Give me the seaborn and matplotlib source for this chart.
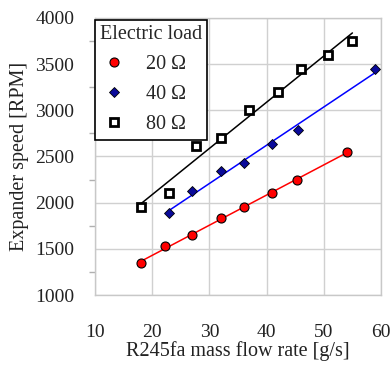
import numpy as np
import pandas as pd
import matplotlib
matplotlib.use("Agg")
import matplotlib.pyplot as plt
import seaborn as sns
from matplotlib.ticker import MultipleLocator

# Data
x20 = [18.0, 22.3, 27.0, 32.0, 36.0, 41.0, 45.3, 54.0]
y20 = [1350, 1530, 1650, 1830, 1950, 2100, 2250, 2550]
x40 = [23.0, 27.0, 32.0, 36.0, 41.0, 45.5, 59.0]
y40 = [1890, 2130, 2340, 2430, 2640, 2790, 3450]
x80 = [18.0, 23.0, 27.7, 32.0, 37.0, 42.0, 46.0, 50.7, 55.0]
y80 = [1950, 2100, 2610, 2700, 3000, 3200, 3450, 3600, 3750]
labels = ["20 Ω", "40 Ω", "80 Ω"]
xticks = [10, 20, 30, 40, 50, 60]
yticks = [1000, 1500, 2000, 2500, 3000, 3500, 4000]

sns.set_theme(style="white")
plt.rcParams['font.family'] = ['Liberation Serif', 'DejaVu Serif']

fig = plt.figure(figsize=(3.9, 3.68), dpi=100)
L, R, B, T = 95 / 390, 381 / 390, 1 - 295 / 368, 1 - 18 / 368
ax = fig.add_axes([L, B, R - L, T - B])

series = [
    (x20, y20, "red", "#ff0000", "o", 6.5, "black", 0.8),
    (x40, y40, "blue", "#0a0a9a", "D", 5, "black", 0.6),
    (x80, y80, "black", "white", "s", 6.3, "black", 2.0),
]
handles = []
for (xs, ys, lc, fc, mk, ms, ec, ew), lab in zip(series, labels):
    df = pd.DataFrame({"x": xs, "y": ys})
    sns.regplot(data=df, x="x", y="y", ax=ax, scatter=False, ci=None,
                truncate=True, line_kws=dict(color=lc, lw=1.1, zorder=2))
    ax.plot(df["x"], df["y"], linestyle="none", marker=mk, markersize=ms,
            markerfacecolor=fc, markeredgecolor=ec, markeredgewidth=ew, zorder=3)
    h, = ax.plot([], [], linestyle="none", marker=mk, markersize=ms,
                 markerfacecolor=fc, markeredgecolor=ec, markeredgewidth=ew, label=lab)
    handles.append(h)

ax.set_xlim(10, 60)
ax.set_ylim(1000, 4000)
ax.set_xticks(xticks)
ax.set_yticks(yticks)
ax.yaxis.set_minor_locator(MultipleLocator(250))
ax.grid(True, which="major", color="#d0d0d0", lw=1.0)
ax.set_axisbelow(True)
for s in ax.spines.values():
    s.set_color("#c8c8c8")
    s.set_linewidth(1.0)
ax.tick_params(axis="both", which="both", direction="out", color="#b0b0b0",
               labelsize=14, labelcolor="#222222")
ax.tick_params(axis="both", which="major", length=4, width=1)
ax.tick_params(axis="y", which="minor", length=4, width=1, left=True)
ax.tick_params(axis="y", which="major", pad=11)
ax.tick_params(axis="x", which="major", pad=17)
ax.set_xlabel("R245fa mass flow rate [g/s]", fontsize=14.5, color="#222222", labelpad=0)
ax.set_ylabel("Expander speed [RPM]", fontsize=14.5, color="#222222", labelpad=4)

leg = ax.legend(handles=handles, title="Electric load", loc="upper left",
                bbox_to_anchor=(0.0, 0.993), fontsize=14.5, title_fontsize=14.5,
                frameon=True, fancybox=False, edgecolor="black",
                borderpad=0.25, handletextpad=0.9, labelspacing=0.55,
                handlelength=1.4, borderaxespad=0.0)
leg.get_frame().set_linewidth(1.2)
leg.get_frame().set_alpha(1)
leg._legend_box.align = "left"

fig.savefig("out.png", dpi=100)
